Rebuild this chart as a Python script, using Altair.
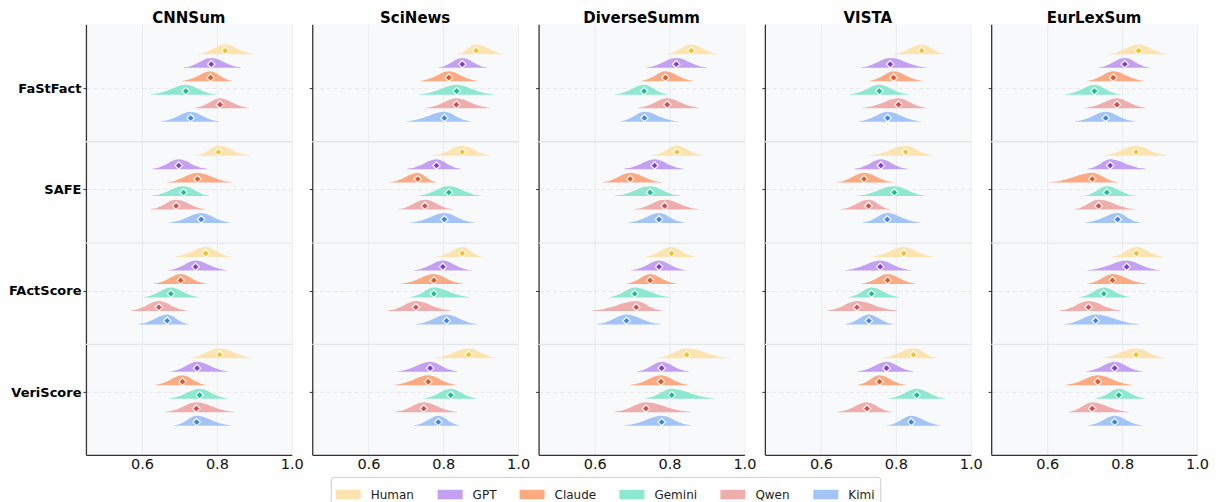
import altair as alt
import pandas as pd

DATASETS = ["CNNSum", "SciNews", "DiverseSumm", "VISTA", "EurLexSum"]
METRICS = ["FaStFact", "SAFE", "FActScore", "VeriScore"]
MODELS = ["Human", "GPT", "Claude", "Gemini", "Qwen", "Kimi"]

# per dataset: rows = metrics, columns = models (centre marker, left end, right end)
CNNSUM_MID = [[0.822, 0.785, 0.783, 0.717, 0.808, 0.730],
              [0.804, 0.698, 0.748, 0.711, 0.691, 0.758],
              [0.770, 0.743, 0.703, 0.677, 0.645, 0.667],
              [0.807, 0.747, 0.708, 0.754, 0.745, 0.746]]
CNNSUM_LOW = [[0.747, 0.711, 0.706, 0.623, 0.740, 0.650],
              [0.746, 0.628, 0.666, 0.625, 0.622, 0.671],
              [0.687, 0.671, 0.631, 0.604, 0.570, 0.591],
              [0.724, 0.675, 0.634, 0.672, 0.662, 0.686]]
CNNSUM_HIGH = [[0.900, 0.865, 0.841, 0.797, 0.886, 0.806],
               [0.887, 0.773, 0.840, 0.781, 0.771, 0.836],
               [0.838, 0.827, 0.772, 0.753, 0.718, 0.724],
               [0.898, 0.831, 0.771, 0.829, 0.847, 0.838]]

SCINEWS_MID = [[0.888, 0.851, 0.815, 0.836, 0.835, 0.803],
               [0.851, 0.782, 0.732, 0.815, 0.751, 0.803],
               [0.851, 0.799, 0.775, 0.775, 0.727, 0.809],
               [0.868, 0.765, 0.760, 0.820, 0.748, 0.787]]
SCINEWS_LOW = [[0.837, 0.786, 0.738, 0.735, 0.753, 0.700],
               [0.772, 0.704, 0.657, 0.732, 0.679, 0.711],
               [0.783, 0.722, 0.687, 0.710, 0.653, 0.729],
               [0.775, 0.676, 0.668, 0.747, 0.671, 0.722]]
SCINEWS_HIGH = [[0.966, 0.917, 0.893, 0.934, 0.926, 0.874],
                [0.926, 0.846, 0.782, 0.902, 0.826, 0.885],
                [0.905, 0.873, 0.852, 0.873, 0.820, 0.890],
                [0.944, 0.838, 0.836, 0.890, 0.837, 0.844]]

DIVERSE_MID = [[0.858, 0.818, 0.789, 0.732, 0.794, 0.733],
               [0.820, 0.760, 0.695, 0.748, 0.787, 0.772],
               [0.805, 0.772, 0.748, 0.707, 0.711, 0.685],
               [0.846, 0.779, 0.777, 0.806, 0.737, 0.779]]
DIVERSE_LOW = [[0.792, 0.737, 0.723, 0.654, 0.714, 0.668],
               [0.753, 0.678, 0.620, 0.654, 0.705, 0.689],
               [0.734, 0.698, 0.685, 0.639, 0.593, 0.607],
               [0.766, 0.713, 0.694, 0.734, 0.651, 0.679]]
DIVERSE_HIGH = [[0.931, 0.900, 0.865, 0.796, 0.880, 0.822],
                [0.890, 0.837, 0.780, 0.828, 0.880, 0.840],
                [0.869, 0.843, 0.819, 0.803, 0.779, 0.775],
                [0.961, 0.851, 0.851, 0.920, 0.857, 0.858]]

VISTA_MID = [[0.869, 0.785, 0.794, 0.756, 0.807, 0.778],
             [0.826, 0.760, 0.715, 0.796, 0.727, 0.777],
             [0.821, 0.758, 0.778, 0.735, 0.696, 0.728],
             [0.847, 0.775, 0.756, 0.856, 0.723, 0.841]]
VISTA_LOW = [[0.793, 0.705, 0.728, 0.676, 0.710, 0.700],
             [0.729, 0.690, 0.642, 0.697, 0.652, 0.710],
             [0.733, 0.664, 0.708, 0.673, 0.617, 0.665],
             [0.761, 0.697, 0.697, 0.780, 0.644, 0.777]]
VISTA_HIGH = [[0.932, 0.883, 0.872, 0.835, 0.883, 0.867],
              [0.899, 0.830, 0.794, 0.880, 0.785, 0.866],
              [0.902, 0.840, 0.853, 0.811, 0.804, 0.793],
              [0.913, 0.848, 0.827, 0.932, 0.790, 0.920]]

EURLEX_MID = [[0.844, 0.807, 0.776, 0.726, 0.786, 0.756],
              [0.837, 0.768, 0.720, 0.759, 0.737, 0.788],
              [0.838, 0.812, 0.774, 0.751, 0.710, 0.729],
              [0.837, 0.780, 0.735, 0.791, 0.720, 0.780]]
EURLEX_LOW = [[0.762, 0.736, 0.706, 0.648, 0.700, 0.674],
              [0.749, 0.708, 0.605, 0.698, 0.671, 0.700],
              [0.771, 0.707, 0.707, 0.685, 0.633, 0.647],
              [0.741, 0.703, 0.647, 0.727, 0.656, 0.708]]
EURLEX_HIGH = [[0.921, 0.873, 0.860, 0.795, 0.864, 0.835],
               [0.918, 0.863, 0.789, 0.836, 0.836, 0.848],
               [0.910, 0.900, 0.865, 0.822, 0.796, 0.845],
               [0.916, 0.854, 0.828, 0.861, 0.818, 0.853]]

MID = dict(zip(DATASETS, [CNNSUM_MID, SCINEWS_MID, DIVERSE_MID, VISTA_MID, EURLEX_MID]))
LOW = dict(zip(DATASETS, [CNNSUM_LOW, SCINEWS_LOW, DIVERSE_LOW, VISTA_LOW, EURLEX_LOW]))
HIGH = dict(zip(DATASETS, [CNNSUM_HIGH, SCINEWS_HIGH, DIVERSE_HIGH, VISTA_HIGH, EURLEX_HIGH]))

FILL_COLORS = ["#fde4ae", "#c4a0f3", "#fcaa82", "#8ce8cf", "#efaeac", "#a2c4f9"]
DOT_COLORS = ["#fbbf24", "#7c3aed", "#f4511e", "#12c28e", "#e0464e", "#3b82f6"]

# glyph style (shape of each half-violin), not data
ROW_STEP = 0.133
PEAK = 0.098
DOT_LIFT = 0.036
SHAPE_T = [0.0, 0.15, 0.3, 0.45, 0.6, 0.75, 0.9, 1.0]
SHAPE_H = [1.0, 0.93, 0.76, 0.53, 0.33, 0.17, 0.08, 0.04]

area_rows, dot_rows = [], []
for d in DATASETS:
    for g, m in enumerate(METRICS):
        for k, mod in enumerate(MODELS):
            c, lo, hi = MID[d][g][k], LOW[d][g][k], HIGH[d][g][k]
            base = g + (k - 2.5) * ROW_STEP
            vid = f"{d}|{m}|{mod}"
            for t, h in zip(reversed(SHAPE_T), reversed(SHAPE_H)):
                area_rows.append(dict(dataset=d, vid=vid, model=mod,
                                      x=c - t * (c - lo), y=base - PEAK * h, y2=base))
            for t, h in zip(SHAPE_T[1:], SHAPE_H[1:]):
                area_rows.append(dict(dataset=d, vid=vid, model=mod,
                                      x=c + t * (hi - c), y=base - PEAK * h, y2=base))
            dot_rows.append(dict(dataset=d, model=mod, x=c, y=base - DOT_LIFT))

area_df = pd.DataFrame(area_rows)
dot_df = pd.DataFrame(dot_rows)
sep_df = pd.DataFrame({"y": [g + 0.53 for g in range(len(METRICS) - 1)]})

xscale = alt.Scale(domain=[0.45, 1.0], nice=False, zero=False)
yscale = alt.Scale(domain=[-0.63, 3.62], reverse=True, nice=False, zero=False)
label_expr = "[" + ",".join(f"'{m}'" for m in METRICS) + "][datum.value]"

PANEL_W = 206
PANEL_H = 431

legend = alt.Legend(
    title=None, orient="none", legendX=245, legendY=453, direction="horizontal",
    columns=6, symbolType="M-1,-0.38H1V0.38H-1Z", symbolSize=625,
    symbolStrokeWidth=0, symbolOpacity=1, labelFontSize=12, labelColor="#222",
    labelOffset=10, columnPadding=23, padding=5, strokeColor="#cccccc",
    cornerRadius=3, fillColor="white", labelFont="DejaVu Sans",
)


def panel(i, d):
    first = i == 0
    xaxis = alt.Axis(values=[0.6, 0.8, 1.0], format=".1f", title=None, grid=True,
                     gridColor="#e6e8ec", gridWidth=0.8, ticks=False,
                     labelFontSize=14.5, labelColor="#111", labelPadding=3,
                     domainColor="#333", domainWidth=1.3, labelFlush=False)
    yaxis = alt.Axis(values=[0, 1, 2, 3], title=None, grid=True, gridDash=[4, 3],
                     gridColor="#e2e2e2", gridWidth=0.8, tickSize=3, tickColor="#333",
                     labels=first, labelExpr=label_expr, labelFontSize=13,
                     labelFontWeight="bold", labelColor="black", labelPadding=2,
                     domainColor="#333", domainWidth=1.3)
    X = alt.X("x:Q", scale=xscale, axis=xaxis)
    Y = alt.Y("y:Q", scale=yscale, axis=yaxis)

    seps = alt.Chart(sep_df).mark_rule(color="#e3e5e9", strokeWidth=1.3).encode(y=Y)
    areas = alt.Chart(area_df).transform_filter(alt.datum.dataset == d).mark_area(
        interpolate="monotone", opacity=1, strokeWidth=0
    ).encode(
        x=X, y=Y, y2="y2:Q", detail="vid:N",
        color=alt.Color("model:N", scale=alt.Scale(domain=MODELS, range=FILL_COLORS),
                        legend=legend),
    )
    dots = alt.Chart(dot_df).transform_filter(alt.datum.dataset == d).mark_point(
        shape="diamond", filled=True, size=55, stroke="white", strokeWidth=1.2, opacity=1
    ).encode(
        x=X, y=Y,
        fill=alt.Fill("model:N", scale=alt.Scale(domain=MODELS, range=DOT_COLORS), legend=None),
    )
    title = alt.Chart(pd.DataFrame({"t": [d]})).mark_text(
        fontSize=15, fontWeight="bold", color="black", baseline="alphabetic", align="center"
    ).encode(text="t:N", x=alt.value(PANEL_W / 2), y=alt.value(-1))
    return alt.layer(seps, areas, dots, title).properties(width=PANEL_W, height=PANEL_H)


chart = alt.hconcat(*[panel(i, d) for i, d in enumerate(DATASETS)], spacing=20.5,
                    bounds="flush").properties(
    padding={"left": 0, "top": 3, "right": 5, "bottom": 0}
).configure(font="DejaVu Sans").configure_view(stroke=None, fill="#f8f9fb")

chart.save("out.html", embed_options={"renderer": "svg", "actions": False})
